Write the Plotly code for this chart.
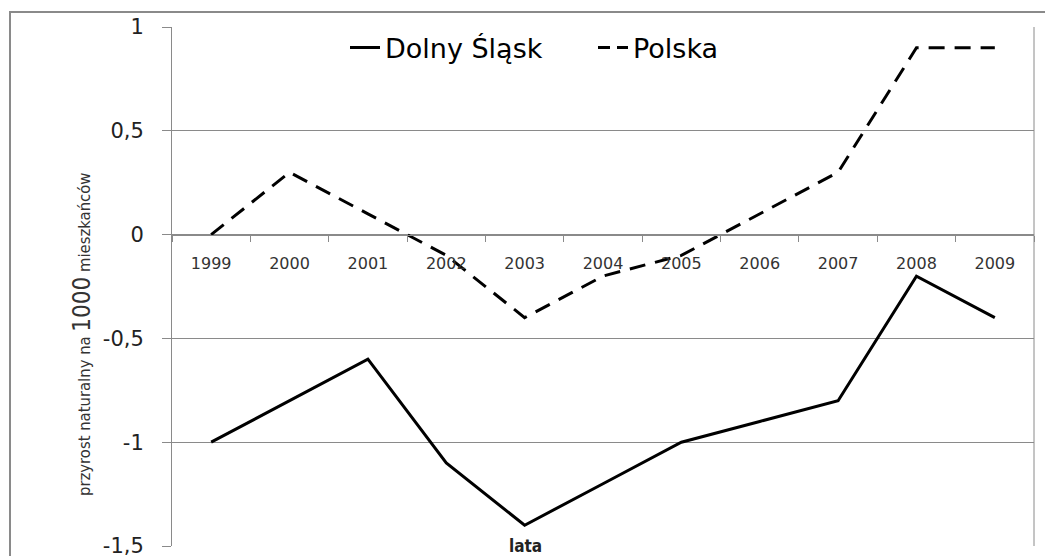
import plotly.graph_objects as go

years = ["1999", "2000", "2001", "2002", "2003", "2004", "2005", "2006", "2007", "2008", "2009"]
dolny_slask = [-1.0, -0.8, -0.6, -1.1, -1.4, -1.2, -1.0, -0.9, -0.8, -0.2, -0.4]
polska = [0.0, 0.3, 0.1, -0.1, -0.4, -0.2, -0.1, 0.1, 0.3, 0.9, 0.9]
y_ticks = [1, 0.5, 0, -0.5, -1, -1.5]
y_ticktext = ["1", "0,5", "0", "-0,5", "-1", "-1,5"]

W, H = 1045, 556
ml, mt, mr, mb = 172, 27, 11, 10
pw = W - ml - mr
ph = H - mt - mb

fig = go.Figure()
fig.add_trace(go.Scatter(x=years, y=dolny_slask, mode="lines", name="Dolny Śląsk",
                         line=dict(color="black", width=3)))
fig.add_trace(go.Scatter(x=years, y=polska, mode="lines", name="Polska", showlegend=False,
                         line=dict(color="black", width=3, dash="16px,10px")))
# legend entry for Polska (shorter dash pattern so the sample shows two dashes)
fig.add_trace(go.Scatter(x=[None], y=[None], mode="lines", name="Polska",
                         line=dict(color="black", width=3, dash="12px,7px")))

ymin, ymax = -1.5, 1.0
zero_pos = (0 - ymin) / (ymax - ymin)

fig.update_layout(
    width=W, height=H,
    margin=dict(l=ml, r=mr, t=mt, b=mb, autoexpand=False),
    paper_bgcolor="white", plot_bgcolor="white",
    separators=", ",
    font=dict(family="DejaVu Sans", color="#222"),
    showlegend=True,
    legend=dict(orientation="h", x=(593 - ml) / pw, xanchor="center",
                y=1 - (48 - mt) / ph, yanchor="middle",
                font=dict(size=27, family="DejaVu Sans", color="black"),
                bgcolor="rgba(255,255,255,0)", tracegroupgap=0, entrywidth=203),
    xaxis=dict(type="category", range=[-0.5, 10.5], anchor="free", position=zero_pos,
               showline=True, linecolor="#8a8a8a", linewidth=1,
               ticks="outside", tickson="boundaries", ticklen=6, tickcolor="#8a8a8a",
               tickfont=dict(size=16, color="#333"), showgrid=False, zeroline=False,
               ticklabelstandoff=14, fixedrange=True, automargin=False),
    yaxis=dict(range=[ymin, ymax], tickvals=y_ticks, ticktext=y_ticktext,
               showline=True, linecolor="#8a8a8a", linewidth=1, mirror=False,
               ticks="outside", ticklen=9, tickcolor="#8a8a8a",
               showgrid=True, gridcolor="#8a8a8a", gridwidth=1, zeroline=False,
               tickfont=dict(size=21, color="#222"), ticklabelstandoff=14,
               ticklabeloverflow="allow", fixedrange=True, automargin=False),
)

# right border of plot area
fig.add_shape(type="line", xref="paper", yref="paper", x0=1, x1=1, y0=0, y1=1,
              line=dict(color="#8a8a8a", width=1))
# outer chart border
fig.add_shape(type="rect", xref="paper", yref="paper",
              x0=(10 - ml) / pw, x1=(W + 5 - ml) / pw,
              y0=-(H + 5 - mt - ph) / ph, y1=1 + (mt - 12) / ph,
              line=dict(color="#8a8a8a", width=2), fillcolor="rgba(0,0,0,0)", layer="below")

# x-axis title
fig.add_annotation(text="<b>lata</b>", xref="paper", yref="paper",
                   x=(525 - ml) / pw, y=0.0, yshift=0, showarrow=False,
                   font=dict(size=17, family="DejaVu Sans Condensed, DejaVu Sans", color="#222"),
                   yanchor="middle")
# y-axis title
fig.add_annotation(
    text="<span style='font-size:16.5px'>przyrost naturalny na </span><span style='font-size:24px'>1000</span><span style='font-size:16.5px'> mieszkańców</span>",
    xref="paper", yref="paper", x=(82 - ml) / pw, y=1 - (335 - mt) / ph,
    textangle=-90, showarrow=False, xanchor="center", yanchor="middle",
    font=dict(family="DejaVu Sans Condensed, DejaVu Sans", color="#333"))

fig.write_html("out.html", config={"displayModeBar": False},
               post_script="document.body.style.margin='0';document.body.style.overflow='hidden';")
